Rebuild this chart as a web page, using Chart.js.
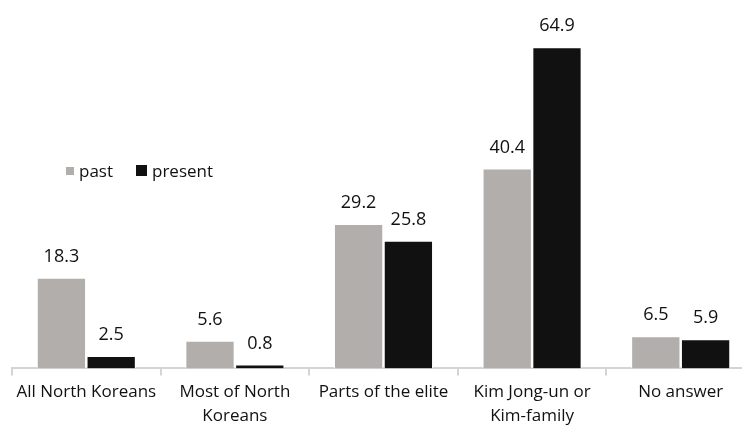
<!DOCTYPE html>
<html>
<head>
<meta charset="utf-8">
<script src="https://cdn.jsdelivr.net/npm/chart.js@4"></script>
<style>
  html, body { margin:0; padding:0; background:#fff; overflow:hidden; }
  #wrap { position:relative; width:756px; height:428px; }
  #legend { position:absolute; left:66px; top:159px; font-family:"Open Sans", sans-serif; font-size:17px; color:#111; display:flex; align-items:center; }
  #legend span.box { display:inline-block; margin-right:5px; }
  #legend .item { display:flex; align-items:center; margin-right:23px; }
</style>
</head>
<body>
<div id="wrap">
  <canvas id="chart" width="756" height="428"></canvas>
  <div id="legend"></div>
</div>
<script>
const categories = [['All North Koreans'], ['Most of North', 'Koreans'], ['Parts of the elite'], ['Kim Jong-un or', 'Kim-family'], ['No answer']];
const past = [18.3, 5.6, 29.2, 40.4, 6.5];
const present = [2.5, 0.8, 25.8, 64.9, 5.9];
const seriesNames = ['past', 'present'];
const seriesColors = ['#b1aeac', '#111111'];

const FONT = '"Open Sans", sans-serif';

// value labels above each bar
const valueLabels = {
  id: 'valueLabels',
  afterDatasetsDraw(chart){
    const ctx = chart.ctx;
    ctx.save();
    ctx.font = '18px ' + FONT;
    ctx.fillStyle = '#111';
    ctx.textAlign = 'center';
    ctx.textBaseline = 'bottom';
    chart.data.datasets.forEach((ds, i)=>{
      chart.getDatasetMeta(i).data.forEach((bar, j)=>{
        ctx.fillText(ds.data[j].toFixed(1), bar.x, bar.y - 12);
      });
    });
    ctx.restore();
  }
};

const chart = new Chart(document.getElementById('chart').getContext('2d'), {
  type: 'bar',
  data: {
    labels: categories,
    datasets: [
      { label: seriesNames[0], data: past, backgroundColor: seriesColors[0], borderColor:'#fff', borderWidth:1 },
      { label: seriesNames[1], data: present, backgroundColor: seriesColors[1], borderColor:'#fff', borderWidth:1 }
    ]
  },
  options: {
    responsive: false,
    animation: false,
    layout: { padding: { left: 12, right: 1, top: 22, bottom: -5 } },
    datasets: { bar: { categoryPercentage: 0.67, barPercentage: 0.99 } },
    scales: {
      x: {
        grid: { offset: true, drawOnChartArea: false, color: '#d4d4d4', lineWidth: 2, tickLength: 7 },
        border: { color: '#d4d4d4', width: 2 },
        ticks: { color: '#111', font: { family: FONT, size: 17, lineHeight: 1.4 }, padding: 5, maxRotation: 0 }
      },
      y: { display: false, min: 0, max: 70 }
    },
    plugins: { legend: { display: false }, tooltip: { enabled: false } }
  },
  plugins: [valueLabels]
});

// legend
const legend = document.getElementById('legend');
seriesNames.forEach((name, i)=>{
  const item = document.createElement('div');
  item.className = 'item';
  const box = document.createElement('span');
  box.className = 'box';
  const s = i === 0 ? 8 : 11;
  box.style.width = s + 'px'; box.style.height = s + 'px';
  box.style.background = seriesColors[i];
  item.appendChild(box);
  item.appendChild(document.createTextNode(name));
  legend.appendChild(item);
});
</script>
</body>
</html>
